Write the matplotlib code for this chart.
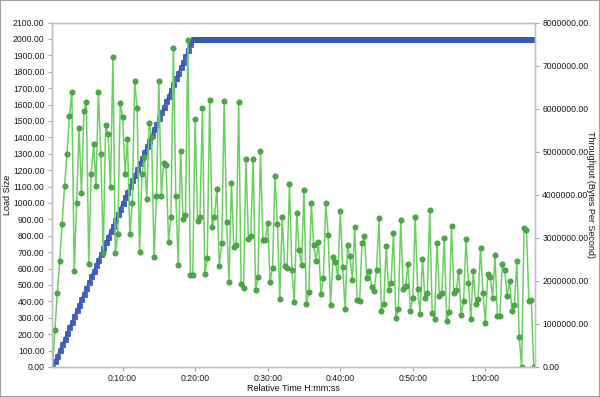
import numpy as np
import matplotlib
matplotlib.use('Agg')
from matplotlib import pyplot as plt
from matplotlib.ticker import FuncFormatter, MultipleLocator
from matplotlib.patches import Rectangle

plt.rcParams['font.family'] = ['Liberation Sans', 'DejaVu Sans']

# 负载（用户数）: 先线性爬升到 2000，然后保持
load_ramp = [0, 34, 69, 103, 138, 172, 207, 241, 276, 310, 345, 379, 414, 448, 483,
             517, 552, 586, 621, 655, 690, 724, 759, 793, 828, 862, 897, 931, 966, 1000,
             1034, 1069, 1103, 1138, 1172, 1207, 1241, 1276, 1310, 1345, 1379, 1414, 1448,
             1483, 1517, 1552, 1586, 1621, 1655, 1690, 1724, 1759, 1793, 1828, 1862, 1897,
             1931, 1966, 2000]
load_hold = [2000] * 141
load = load_ramp + load_hold

# 吞吐量 (百万字节/秒)
throughput_m = [
    0, 0.86, 1.72, 2.46, 3.33, 4.20, 4.95, 5.82, 6.39, 2.23, 3.80, 5.56, 4.04, 5.94, 6.15,
    2.39, 4.48, 5.17, 4.20, 6.38, 4.95, 2.64, 5.63, 5.41, 4.17, 7.20, 2.64, 3.08, 6.12, 5.80,
    4.48, 5.29, 3.08,
    3.80, 6.65, 6.01, 2.66, 4.48, 4.87, 3.91, 5.67, 5.34, 2.56, 3.96, 6.65, 3.98, 4.74, 4.68,
    2.91, 3.49, 7.41, 3.98, 2.38, 5.02, 3.43, 3.52, 7.60, 2.13, 2.14, 5.77, 3.38, 3.49, 6.01,
    2.16, 2.52, 6.21, 3.25,
    3.49, 4.14, 2.35, 2.87, 6.18, 3.36, 1.98, 4.28, 2.78, 2.84, 6.15, 1.92, 1.83, 4.84, 2.98,
    3.04, 4.84, 1.79, 2.09, 5.01, 2.95, 2.94, 3.35, 1.98, 2.30, 4.44, 3.31, 1.59, 3.49, 2.35,
    2.30, 4.26, 2.25,
    1.51, 3.57, 2.71, 2.36, 4.11, 1.47, 1.74, 3.82, 2.84, 2.47, 2.91, 1.69, 2.06, 3.80, 3.07,
    1.44, 2.56, 2.44, 2.09, 3.63, 2.32, 1.35, 2.83, 2.58, 2.02, 3.26, 1.55, 1.53, 2.88, 3.04,
    2.07, 2.23, 1.86,
    1.76, 2.25, 3.46, 1.30, 1.47, 2.80, 1.78, 1.95, 3.11, 1.13, 1.35, 3.42, 1.82, 1.88, 2.40,
    1.31, 1.61, 3.48, 1.81, 1.24, 2.50, 1.61, 1.72, 3.65, 1.26, 1.11, 2.89, 1.65, 1.72, 3.00,
    1.07, 1.28, 3.28,
    1.73, 1.78, 2.24, 1.21, 1.53, 2.98, 1.95, 1.11, 2.24, 1.47, 1.57, 2.77, 1.73, 1.03, 2.16,
    2.09, 1.61, 2.60, 1.18, 1.18, 2.39, 2.26, 1.65, 1.99, 1.30, 1.43, 2.46, 0.70, 0, 3.22,
    3.17, 1.53, 1.55, 0,
]
throughput = np.array(throughput_m) * 1e6

interval = 20  # 采样间隔 (秒)
times = np.arange(1, len(throughput) + 1) * interval


def hms(x, pos):
    x = int(round(x))
    return '%d:%02d:%02d' % (x // 3600, x % 3600 // 60, x % 60)


fig = plt.figure(figsize=(6, 3.97), dpi=100)
fig.patches.append(Rectangle((0, 0), 1, 1, transform=fig.transFigure, fill=False,
                             edgecolor='#a0a0a0', linewidth=1.5))
ax_w = (535.3 - 51.5) / 600
ax_h = (367 - 22.5) / 397
ax = fig.add_axes([51.5 / 600, 1 - 367 / 397, ax_w, ax_h])
ax2 = ax.twinx()

ax.plot(times, load, color='#4a66c8', linewidth=1.2, marker='s', markersize=3.6,
        markerfacecolor='#3f5fc0', markeredgecolor='#3050b0', markeredgewidth=0.5)
ax2.plot(times, throughput, color='#6ccf62', linewidth=1.1, marker='o', markersize=3.8,
         markerfacecolor='#4fa648', markeredgecolor='#3f9a3a', markeredgewidth=0.5)

ax.set_xlim(12, 4013)
ax.set_ylim(0, 2100)
ax2.set_ylim(0, 8000000)
ax.yaxis.set_major_locator(MultipleLocator(100))
ax2.yaxis.set_major_locator(MultipleLocator(1000000))
ax.xaxis.set_major_locator(MultipleLocator(600))
ax.yaxis.set_major_formatter(FuncFormatter(lambda v, p: '%.2f' % v))
ax2.yaxis.set_major_formatter(FuncFormatter(lambda v, p: '%.2f' % v))
ax.xaxis.set_major_formatter(FuncFormatter(lambda v, p: '' if v < 300 else hms(v, p)))

for a in (ax, ax2):
    for s in a.spines.values():
        s.set_color('#c0c0c8')
        s.set_linewidth(1.0)
    a.tick_params(colors='#a8a8a8', labelcolor='#1a1a1a', labelsize=6.2, length=3, width=0.8)
ax.tick_params(axis='y', pad=2)
ax2.tick_params(axis='y', pad=2)
ax.tick_params(axis='x', pad=2)

ax.set_ylabel('Load Size', fontsize=6.5, color='#111111', va='center')
ax.yaxis.set_label_coords((7 - 51.5) / (ax_w * 600), 0.5)
ax2.set_ylabel('Throughput (Bytes Per Second)', fontsize=6.5, color='#111111',
               rotation=270, va='center')
ax2.yaxis.set_label_coords((590 - 51.5) / (ax_w * 600), 0.5)
ax.set_xlabel('Relative Time H:mm:ss', fontsize=6.5, color='#111111', labelpad=1)

plt.savefig('out.png', dpi=100)
